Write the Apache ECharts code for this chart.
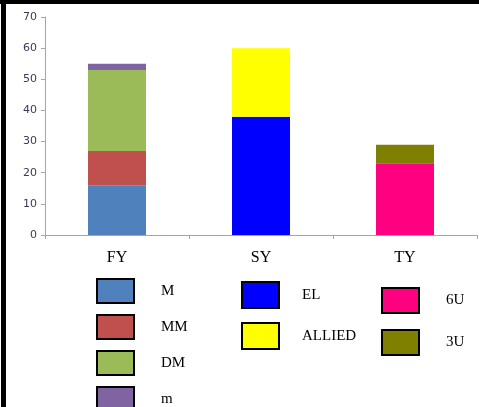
<!DOCTYPE html>
<html>
<head>
<meta charset="utf-8">
<script src="https://cdn.jsdelivr.net/npm/echarts@6/dist/echarts.min.js"></script>
<style>html,body{margin:0;padding:0;background:#fff}#c{width:479px;height:407px}</style>
</head>
<body>
<div id="c"></div>
<script>
const categories = ['FY', 'SY', 'TY'];
const yTicks = [0, 10, 20, 30, 40, 50, 60, 70];
// series values per category (null = not present)
const M      = [16, null, null];
const MM     = [11, null, null];
const DM     = [26, null, null];
const m      = [2, null, null];
const EL     = [null, 38, null];
const ALLIED = [null, 22, null];
const U6     = [null, null, 23];
const U3     = [null, null, 6];

const seriesDefs = [
  ['M', M, '#4F81BD'], ['MM', MM, '#C0504D'], ['DM', DM, '#9BBB59'], ['m', m, '#8064A2'],
  ['EL', EL, '#0000FF'], ['ALLIED', ALLIED, '#FFFF00'],
  ['6U', U6, '#FF0080'], ['3U', U3, '#808000']
];

const chart = echarts.init(document.getElementById('c'), null, {renderer: 'canvas'});
const serif = "'Liberation Serif', 'Times New Roman', serif";
const legendBase = {
  orient: 'vertical', itemWidth: 37, itemHeight: 24, selectedMode: false,
  icon: 'rect', height: 200, width: 120,
  itemStyle: {borderColor: '#000', borderWidth: 2},
  textStyle: {fontFamily: serif, fontSize: 15, color: '#000', padding: [0, 0, 0, 22]},
  padding: 0
};
chart.setOption({
  animation: false,
  backgroundColor: '#fff',
  grid: {left: 45, right: 2, top: 17, bottom: 172, containLabel: false},
  xAxis: {
    type: 'category', data: categories,
    axisLine: {lineStyle: {color: '#a6a6a6', width: 1}},
    axisTick: {show: true, length: 4, lineStyle: {color: '#a6a6a6'}},
    axisLabel: {fontFamily: serif, fontSize: 16, color: '#000', margin: 15}
  },
  yAxis: {
    type: 'value', min: yTicks[0], max: yTicks[yTicks.length - 1], interval: 10,
    splitLine: {show: false},
    axisLine: {show: true, lineStyle: {color: '#a6a6a6'}},
    axisTick: {show: true, length: 4, lineStyle: {color: '#a6a6a6'}},
    axisLabel: {fontFamily: "'DejaVu Sans', Verdana, sans-serif", fontSize: 11, color: '#3a3a5a', margin: 8}
  },
  legend: [
    Object.assign({}, legendBase, {left: 96, top: 278, itemGap: 10, data: ['M', 'MM', 'DM', 'm']}),
    Object.assign({}, legendBase, {left: 241, top: 281, itemGap: 13, itemHeight: 26,
      textStyle: Object.assign({}, legendBase.textStyle, {padding: [0, 0, 0, 18]}), data: ['EL', 'ALLIED']}),
    Object.assign({}, legendBase, {left: 381, top: 287, itemGap: 15, itemHeight: 25, data: ['6U', '3U']})
  ],
  graphic: [
    {type: 'rect', left: 0, top: 0, shape: {width: 479, height: 4}, style: {fill: '#000'}},
    {type: 'rect', left: 1, top: 0, shape: {width: 5, height: 407}, style: {fill: '#000'}}
  ],
  series: seriesDefs.map(([name, data, color]) => ({
    name, type: 'bar', stack: 'total', barWidth: 58,
    data: data.map(v => v === null ? '-' : v),
    itemStyle: {color}
  }))
});
</script>
</body>
</html>
